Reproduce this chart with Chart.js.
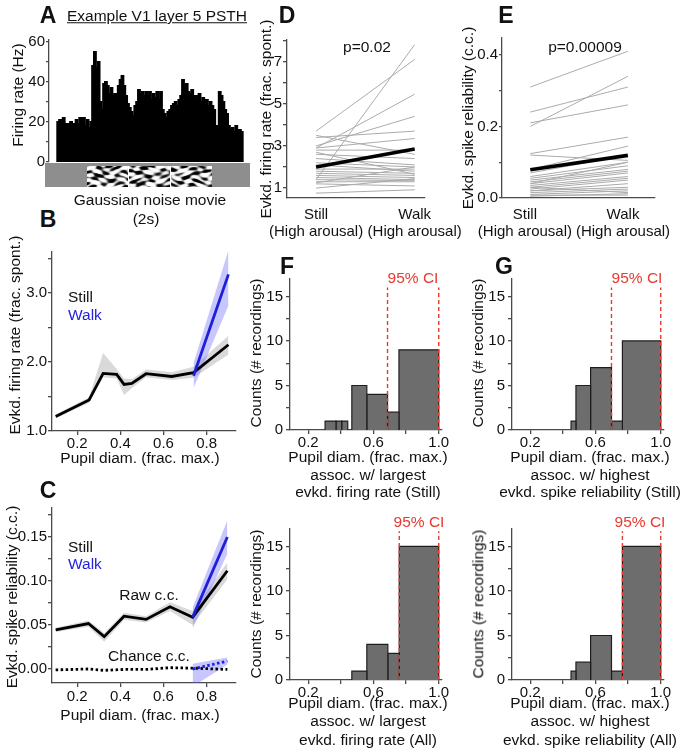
<!DOCTYPE html>
<html>
<head>
<meta charset="utf-8">
<script src="https://cdn.jsdelivr.net/npm/chart.js@4.4.1/dist/chart.umd.min.js"></script>
<style>
  body { margin: 0; background: #fff; }
  #fig { position: relative; width: 682px; height: 752px; overflow: hidden; font-family: "Liberation Sans", Arial, Helvetica, sans-serif; color: #111; }
  #fig canvas { position: absolute; }
  .t { position: absolute; white-space: nowrap; font-size: 15.5px; line-height: 1; transform: translate(-50%, -50%); }
  .v { transform: translate(-50%, -50%) rotate(-90deg); }
  .l { transform: translate(0, -50%); }
  .p { font-weight: bold; font-size: 23px; }
  .red { color: #e8392f; }
  .blue { color: #2424d8; }
</style>
</head>
<body>
<div id="fig">
  <canvas id="movie" width="205" height="24" style="left:45px;top:163px"></canvas>
</div>
<script>
// ---- data ----

// A: PSTH, firing rate (Hz) per bin across the 2 s movie
const psthRates = [20, 21, 21, 22, 19, 19, 19, 20, 18, 19, 21, 19, 22, 20, 22, 18, 21, 17, 20,
  48, 55, 47, 50, 30, 26, 39, 40, 38, 34, 37, 33, 34, 31, 38, 41, 43, 38,
  33, 29, 27, 25, 23, 28, 30, 36, 34, 35, 33, 35, 33, 35, 31, 34, 32, 35, 31, 35,
  26, 24, 22, 25, 26, 28, 29, 30, 28, 31, 33, 41, 37, 39, 35, 34, 36, 33, 31, 33, 34, 30, 32, 29, 31, 28, 30, 28, 26,
  15, 18, 35, 33, 30, 26, 24, 18, 16, 17, 15, 18, 14, 16, 15];
const psthTicks = [0, 10, 20, 30, 40, 50, 60];
const psthLabels = [0, 20, 40, 60];

// B: evoked firing rate (frac. spont.) vs pupil diameter
const pupilB = [0.10, 0.255, 0.32, 0.383, 0.417, 0.453, 0.519, 0.638, 0.739, 0.901];
const rateStill = [1.21, 1.45, 1.835, 1.82, 1.675, 1.69, 1.83, 1.79, 1.845, 2.25];
const rateStillHi = [1.24, 1.49, 2.13, 1.90, 1.76, 1.75, 1.89, 1.85, 1.93, 2.38];
const rateStillLo = [1.18, 1.41, 1.78, 1.76, 1.52, 1.62, 1.78, 1.74, 1.77, 2.11];
const pupilBWalk = [0.739, 0.901];
const rateWalk = [1.80, 3.27];
const rateWalkHi = [1.98, 3.62];
const rateWalkLo = [1.62, 2.82];
const rateTicks = [1.0, 1.5, 2.0, 2.5, 3.0, 3.5];
const rateLabels = [1.0, 2.0, 3.0];

// C: evoked spike reliability (c.c.) vs pupil diameter
const pupilC = [0.10, 0.252, 0.325, 0.417, 0.519, 0.63, 0.735, 0.896];
const ccStill = [0.0446, 0.0517, 0.0368, 0.060, 0.0564, 0.0707, 0.0589, 0.1117];
const ccStillHi = [0.047, 0.055, 0.041, 0.064, 0.060, 0.076, 0.066, 0.121];
const ccStillLo = [0.042, 0.048, 0.031, 0.056, 0.053, 0.066, 0.050, 0.102];
const pupilCWalk = [0.735, 0.896];
const ccWalk = [0.059, 0.150];
const ccWalkHi = [0.070, 0.169];
const ccWalkLo = [0.046, 0.131];
const chanceStill = [-0.001, 0.0, -0.0015, -0.0005, -0.0005, 0.0015, 0.001, -0.0005];
const chanceWalk = [0.0, 0.009];
const chanceWalkHi = [0.006, 0.013];
const chanceWalkLo = [-0.02, 0.005];
const ccTicks = [0, 0.025, 0.05, 0.075, 0.1, 0.125, 0.15, 0.175];
const ccLabels = [0, 0.05, 0.1, 0.15];
const pupilTicks = [0.2, 0.4, 0.6, 0.8];

// D, E: paired recordings, Still vs Walk (high arousal)
const condX = [0, 1];
const dLabelPos = [0, 1];
const eLabelPos = [-0.055, 0.95];
const condLabels = [['Still', '(High arousal)'], ['Walk', '(High arousal)']];
const dStill = [1.4, 3.7, 2.9, 3.0, 3.4, 2.9, 2.8, 2.6, 2.4, 2.2, 2.1, 1.9, 1.8, 1.7, 1.6, 1.5, 1.4, 1.3, 1.25, 1.2, 1.0, 0.76, 3.5, 2.7];
const dWalk = [7.8, 7.1, 5.45, 4.4, 3.7, 3.35, 2.8, 2.4, 2.1, 2.0, 1.8, 1.9, 1.7, 1.6, 1.5, 1.4, 1.35, 1.3, 2.0, 1.1, 1.45, 0.92, 2.6, 1.65];
const dMean = [2.0, 2.85];
const dTicks = [1, 2, 3, 4, 5, 6, 7, 8];
const dLabels = [1, 3, 5, 7];
const eStill = [0.31, 0.24, 0.20, 0.21, 0.124, 0.12, 0.08, 0.07, 0.06, 0.055, 0.05, 0.045, 0.04, 0.035, 0.03, 0.025, 0.02, 0.02, 0.015, 0.01, 0.005, 0.008, 0.03, 0.04];
const eWalk = [0.41, 0.31, 0.34, 0.26, 0.17, 0.105, 0.145, 0.12, 0.10, 0.09, 0.08, 0.075, 0.07, 0.06, 0.055, 0.05, 0.04, 0.03, 0.025, 0.02, 0.012, 0.008, 0.015, 0.10];
const eMean = [0.079, 0.119];
const eTicks = [0, 0.1, 0.2, 0.3, 0.4];
const eLabels = [0, 0.2, 0.4];

// F, G: histograms of pupil diameter with largest response (bin edges + counts)
const fStillLeft = [0.303, 0.370, 0.405, 0.467, 0.559, 0.686, 0.756];
const fStillRight = [0.370, 0.405, 0.442, 0.559, 0.686, 0.756, 1.0];
const fStillCount = [1, 1, 1, 5, 4, 2, 9];
const fStillCI = [0.686, 1.0];
const fAllLeft = [0.467, 0.559, 0.688, 0.758];
const fAllRight = [0.559, 0.688, 0.758, 1.0];
const fAllCount = [1, 4, 3, 15];
const fAllCI = [0.758, 1.0];
const gLeft = [0.45, 0.48, 0.57, 0.698, 0.765];
const gRight = [0.48, 0.57, 0.698, 0.765, 1.0];
const gStillCount = [1, 5, 7, 1, 10];
const gStillCI = [0.698, 1.0];
const gAllCount = [1, 2, 5, 1, 15];
const gAllCI = [0.765, 1.0];
const countTicks = [0, 2.5, 5, 7.5, 10, 12.5, 15];
const countLabels = [0, 5, 10, 15];
const histXTicks = [0.2, 0.4, 0.6, 0.8, 1.0];
const histXLabels = [0.2, 0.6, 1.0];

// ---- chart setup ----
const FONT = '"Liberation Sans", Arial, Helvetica, sans-serif';
Chart.defaults.font.family = FONT;
Chart.defaults.font.size = 15;
Chart.defaults.color = '#111';
Chart.defaults.animation = false;
Chart.defaults.plugins.legend.display = false;
Chart.defaults.plugins.tooltip.enabled = false;

const AXIS = '#4a4a4a';
const fig = document.getElementById('fig');

function axis(min, max, ticks, labels, fmt, o) {
  return {
    type: 'linear', min, max, offset: false,
    afterBuildTicks: s => { s.ticks = ticks.map(v => ({ value: v })); },
    afterFit: s => { if (s.isHorizontal()) s.height = o.size; else s.width = o.size; },
    ticks: {
      autoSkip: false, maxRotation: 0, padding: o.pad,
      font: { size: 15, lineHeight: 1.15 },
      callback: v => { const i = labels.indexOf(v); return i < 0 ? '' : fmt(v, i); }
    },
    grid: { drawOnChartArea: false, drawTicks: o.tl > 0, tickLength: o.tl, color: AXIS, lineWidth: 1.3 },
    border: { color: AXIS, width: 1.3 }
  };
}

function place(area, o, cfg) {
  const cv = document.createElement('canvas');
  const w = area.r - area.l + o.yw + o.padR;
  const h = area.b - area.t + o.padT + o.xh + (o.padB || 0);
  cv.width = w; cv.height = h;
  cv.style.left = (area.l - o.yw) + 'px';
  cv.style.top = (area.t - o.padT) + 'px';
  fig.appendChild(cv);
  cfg.options.responsive = false;
  cfg.options.events = [];
  cfg.options.layout = { padding: { top: o.padT, right: o.padR, left: 0, bottom: o.padB || 0 } };
  return new Chart(cv, cfg);
}

const pts = (xs, ys) => xs.map((x, i) => ({ x, y: ys[i] }));
const line = (data, color, width, order, extra) => Object.assign({
  data, showLine: true, pointRadius: 0, borderColor: color, borderWidth: width, fill: false, order
}, extra || {});
const band = (data, color, target, order) => ({
  data, showLine: true, pointRadius: 0, borderColor: 'rgba(0,0,0,0)', borderWidth: 0,
  backgroundColor: color, fill: target, order
});

// A: PSTH
place({ l: 49, t: 40, r: 250, b: 162 }, { yw: 40, xh: 0, padT: 10, padR: 2, padB: 10 }, {
  type: 'scatter',
  data: { datasets: [{
    type: 'bar',
    data: psthRates.map((v, i) => ({ x: i, y: v })),
    backgroundColor: '#000', barPercentage: 1, categoryPercentage: 1,
    borderWidth: 0, inflateAmount: 1
  }] },
  options: { scales: {
    x: { type: 'linear', min: -5.02, max: 104.5, offset: false, display: false, grid: { offset: false } },
    y: axis(0, 61, psthTicks, psthLabels, v => String(v), { size: 40, tl: 3, pad: 1 })
  } }
});

// B: firing rate vs pupil
place({ l: 52, t: 252, r: 236, b: 431 }, { yw: 45, xh: 30, padT: 10, padR: 12 }, {
  type: 'scatter',
  data: { datasets: [
    line(pts(pupilBWalk, rateWalk), '#1f1fd6', 2.8, 0),
    line(pts(pupilB, rateStill), '#000', 2.8, 1),
    band(pts(pupilBWalk, rateWalkHi), 'rgba(95,95,250,0.35)', 3, 2),
    band(pts(pupilBWalk, rateWalkLo), 'rgba(0,0,0,0)', false, 2),
    band(pts(pupilB, rateStillHi), '#d9d9d9', 5, 3),
    band(pts(pupilB, rateStillLo), 'rgba(0,0,0,0)', false, 3)
  ] },
  options: { scales: {
    x: axis(0.083, 0.936, pupilTicks, pupilTicks, v => v.toFixed(1), { size: 30, tl: 4, pad: 0 }),
    y: axis(1.0, 3.594, rateTicks, rateLabels, v => v.toFixed(1), { size: 45, tl: 4, pad: 1 })
  } }
});

// C: spike reliability vs pupil
place({ l: 52, t: 508, r: 236, b: 683 }, { yw: 45, xh: 30, padT: 10, padR: 12 }, {
  type: 'scatter',
  data: { datasets: [
    line(pts(pupilCWalk, ccWalk), '#1f1fd6', 2.8, 0),
    line(pts(pupilCWalk, chanceWalk), '#1f1fd6', 2.8, 0, { borderDash: [2.5, 2.5] }),
    line(pts(pupilC, ccStill), '#000', 2.8, 1),
    line(pts(pupilC, chanceStill), '#000', 2.8, 1, { borderDash: [2.5, 2.5] }),
    band(pts(pupilCWalk, ccWalkHi), 'rgba(95,95,250,0.35)', 5, 2),
    band(pts(pupilCWalk, ccWalkLo), 'rgba(0,0,0,0)', false, 2),
    band(pts(pupilCWalk, chanceWalkHi), 'rgba(95,95,250,0.35)', 7, 2),
    band(pts(pupilCWalk, chanceWalkLo), 'rgba(0,0,0,0)', false, 2),
    band(pts(pupilC, ccStillHi), '#d9d9d9', 9, 3),
    band(pts(pupilC, ccStillLo), 'rgba(0,0,0,0)', false, 3)
  ] },
  options: { scales: {
    x: axis(0.083, 0.936, pupilTicks, pupilTicks, v => v.toFixed(1), { size: 30, tl: 4, pad: 1.5 }),
    y: axis(-0.0159, 0.183, ccTicks, ccLabels, v => v.toFixed(2), { size: 45, tl: 4, pad: 1 })
  } }
});

// D, E: paired lines
function pairedSets(still, walk, mean) {
  const sets = still.map((s, i) => line(pts(condX, [s, walk[i]]), '#ababab', 1, 1));
  sets.unshift(line(pts(condX, mean), '#000', 3.6, 0));
  return sets;
}
place({ l: 287, t: 40, r: 428, b: 198 }, { yw: 40, xh: 45, padT: 10, padR: 45 }, {
  type: 'scatter',
  data: { datasets: pairedSets(dStill, dWalk, dMean) },
  options: { scales: {
    x: axis(-0.295, 1.1, dLabelPos, dLabelPos, (v, i) => condLabels[i], { size: 45, tl: 0, pad: 8 }),
    y: axis(0.53, 8.02, dTicks, dLabels, v => String(v), { size: 40, tl: 4, pad: 1 })
  } }
});
place({ l: 502, t: 38, r: 663, b: 198 }, { yw: 40, xh: 45, padT: 10, padR: 19 }, {
  type: 'scatter',
  data: { datasets: pairedSets(eStill, eWalk, eMean) },
  options: { scales: {
    x: axis(-0.29, 1.27, eLabelPos, eLabelPos, (v, i) => condLabels[i], { size: 45, tl: 0, pad: 8 }),
    y: axis(0, 0.447, eTicks, eLabels, v => v.toFixed(1), { size: 40, tl: 3, pad: 1 })
  } }
});

// F, G: histograms
function histChart(area, lefts, rights, counts, ci, ciTop) {
  const sets = ci.map(x => line([{ x, y: 0 }, { x, y: ciTop }], '#e8392f', 1.4, 0, { borderDash: [4, 3] }));
  counts.forEach((c, i) => sets.push({
    data: [{ x: lefts[i], y: 0 }, { x: lefts[i], y: c }, { x: rights[i], y: c }, { x: rights[i], y: 0 }],
    showLine: true, pointRadius: 0, borderColor: '#1e1e1e', borderWidth: 1.2,
    backgroundColor: '#6d6d6d', fill: 'origin', order: 1
  }));
  place(area, { yw: 40, xh: 30, padT: 10, padR: 14 }, {
    type: 'scatter',
    data: { datasets: sets },
    options: { scales: {
      x: axis(0.088, 1.02, histXTicks, histXLabels, v => v.toFixed(1), { size: 30, tl: 4, pad: 0 }),
      y: axis(0, 17, countTicks, countLabels, v => String(v), { size: 40, tl: 4, pad: 3 })
    } }
  });
}
histChart({ l: 290, t: 277, r: 442, b: 430 }, fStillLeft, fStillRight, fStillCount, fStillCI, 16);
histChart({ l: 290, t: 527, r: 442, b: 680 }, fAllLeft, fAllRight, fAllCount, fAllCI, 16.7);
histChart({ l: 512, t: 277, r: 664, b: 430 }, gLeft, gRight, gStillCount, gStillCI, 16);
histChart({ l: 512, t: 527, r: 664, b: 680 }, gLeft, gRight, gAllCount, gAllCI, 16.7);

// Gaussian noise movie strip under the PSTH (stimulus picture, not data)
(function drawMovie() {
  const g = document.getElementById('movie').getContext('2d');
  g.fillStyle = '#8e8e8e';
  g.fillRect(0, 0, 205, 24);
  g.fillStyle = '#fff';
  g.fillRect(42, 3, 125, 21);
  for (let f = 0; f < 3; f++) {
    const img = g.createImageData(41, 21);
    const ph = f * 2.3;
    for (let y = 0; y < 21; y++) {
      for (let x = 0; x < 41; x++) {
        const v = Math.sin(0.36 * x + ph + 1.3 * Math.sin(0.31 * y + ph)) * Math.sin(0.82 * y + 1.1 * ph + 1.0 * Math.sin(0.23 * x + 2 * ph))
          + 0.55 * Math.sin(0.21 * x + 1.6 * ph + 0.9 * Math.sin(0.6 * y)) * Math.sin(0.5 * y - 0.7 * ph + 0.8 * Math.sin(0.37 * x));
        const c = Math.round(255 / (1 + Math.exp(-5 * (v + 0.15))));
        const p = (y * 41 + x) * 4;
        img.data[p] = img.data[p + 1] = img.data[p + 2] = c;
        img.data[p + 3] = 255;
      }
    }
    g.putImageData(img, 42 + f * 42, 3);
  }
})();

// ---- text ----
const texts = [
  ['A', 48, 15, 'p'], ['B', 48, 219, 'p'], ['C', 48, 490, 'p'], ['D', 287, 15, 'p'],
  ['E', 506, 15, 'p'], ['F', 287, 266, 'p'], ['G', 504, 266, 'p'],
  ['Example V1 layer 5 PSTH', 157, 16, '', 'text-decoration:underline'],
  ['Gaussian noise movie', 150, 200], ['(2s)', 146, 219],
  ['Firing rate (Hz)', 18, 95, 'v'],
  ['Evkd. firing rate (frac. spont.)', 15, 335, 'v'],
  ['Pupil diam. (frac. max.)', 140, 458],
  ['Still', 68, 297, 'l'], ['Walk', 68, 315, 'l blue'],
  ['Evkd. spike reliability (c.c.)', 12, 597, 'v'],
  ['Pupil diam. (frac. max.)', 140, 715],
  ['Still', 68, 547, 'l'], ['Walk', 68, 564, 'l blue'],
  ['Raw c.c.', 149, 595], ['Chance c.c.', 149, 656],
  ['p=0.02', 367, 47], ['p=0.00009', 585, 47],
  ['Evkd. firing rate (frac. spont.)', 266, 119, 'v'],
  ['Evkd. spike reliability (c.c.)', 468, 118, 'v'],
  ['95% CI', 413, 278, 'red'], ['95% CI', 419, 522, 'red'],
  ['95% CI', 637, 278, 'red'], ['95% CI', 640, 522, 'red'],
  ['Counts (# recordings)', 256, 353, 'v'], ['Counts (# recordings)', 256, 604, 'v'],
  ['Counts (# recordings)', 478, 353, 'v'], ['Counts (# recordings)', 478, 604, 'v'],
  ['Pupil diam. (frac. max.)', 368, 457], ['assoc. w/ largest', 368, 474.5], ['evkd. firing rate (Still)', 368, 492],
  ['Pupil diam. (frac. max.)', 368, 703], ['assoc. w/ largest', 368, 721], ['evkd. firing rate (All)', 368, 740],
  ['Pupil diam. (frac. max.)', 590, 457], ['assoc. w/ highest', 590, 474.5], ['evkd. spike reliability (Still)', 590, 492],
  ['Pupil diam. (frac. max.)', 590, 703], ['assoc. w/ highest', 590, 721], ['evkd. spike reliability (All)', 590, 740]
];
texts.forEach(([s, x, y, cls, style]) => {
  const d = document.createElement('div');
  d.className = 't ' + (cls || '');
  d.textContent = s;
  d.style.left = x + 'px';
  d.style.top = y + 'px';
  if (style) d.style.cssText += style;
  fig.appendChild(d);
});
</script>
</body>
</html>
